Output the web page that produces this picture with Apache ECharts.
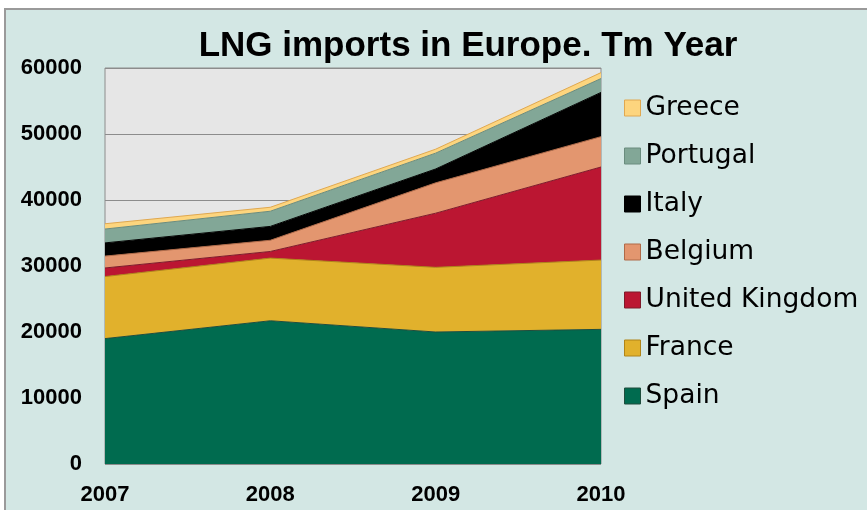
<!DOCTYPE html>
<html>
<head>
<meta charset="utf-8">
<script src="https://cdn.jsdelivr.net/npm/echarts@6/dist/echarts.min.js"></script>
<style>
  html, body { margin: 0; padding: 0; background: #fff; }
  #chart { width: 867px; height: 510px; }
</style>
</head>
<body>
<div id="chart"></div>
<script>
// years on the x axis
var years = ["2007", "2008", "2009", "2010"];
var yTicks = [0, 10000, 20000, 30000, 40000, 50000, 60000];

// LNG imports, Tm per year
var spain = [19000, 21700, 20000, 20400];
var france = [9400, 9500, 9800, 10500];
var unitedKingdom = [1300, 1000, 8200, 14100];
var belgium = [1800, 1700, 4600, 4600];
var italy = [2000, 2100, 2100, 6700];
var portugal = [2100, 2300, 2400, 2100];
var greece = [800, 600, 600, 900];

var countries = [
  { name: "Spain", data: spain, color: "#006b4f", edge: "#1f4d3d" },
  { name: "France", data: france, color: "#e1b12c", edge: "#b08418" },
  { name: "United Kingdom", data: unitedKingdom, color: "#bb1632", edge: "#7e1a2a" },
  { name: "Belgium", data: belgium, color: "#e3966f", edge: "#b06a48" },
  { name: "Italy", data: italy, color: "#000000", edge: "#000000" },
  { name: "Portugal", data: portugal, color: "#82a797", edge: "#6a8c7e" },
  { name: "Greece", data: greece, color: "#fdd57e", edge: "#e0a850" }
];

var chart = echarts.init(document.getElementById("chart"));

var seriesData = countries.map(function (c) {
  return {
    name: c.name,
    type: "line",
    stack: "total",
    data: c.data,
    symbol: "none",
    color: c.color,
    lineStyle: { color: c.edge, width: 1 },
    areaStyle: { color: c.color, opacity: 1 },
    emphasis: { disabled: true }
  };
});

var option = {
  backgroundColor: "#ffffff",
  animation: false,
  graphic: [
    {
      type: "rect",
      z: -10,
      shape: { x: 5, y: 9, width: 880, height: 520 },
      style: { fill: "#d3e7e4", stroke: "#9a9a9a", lineWidth: 2 }
    }
  ],
  title: {
    text: "LNG imports in Europe. Tm Year",
    left: 463,
    textAlign: "center",
    top: 24,
    textStyle: {
      fontFamily: "Liberation Sans",
      fontWeight: "bold",
      fontSize: 35,
      color: "#000"
    }
  },
  legend: {
    orient: "vertical",
    left: 619,
    top: 89,
    itemWidth: 16,
    itemHeight: 16,
    itemGap: 20,
    icon: "rect",
    data: countries.slice().reverse().map(function (c) {
      return { name: c.name, itemStyle: { borderColor: c.edge, borderWidth: 1 } };
    }),
    textStyle: {
      fontFamily: "DejaVu Sans",
      fontSize: 26.5,
      lineHeight: 28,
      color: "#000"
    }
  },
  grid: {
    left: 105,
    top: 68,
    right: 266,
    bottom: 46,
    show: true,
    backgroundColor: "#e6e6e6",
    borderColor: "#8c8c8c",
    borderWidth: 1
  },
  xAxis: {
    type: "category",
    data: years,
    boundaryGap: false,
    axisLine: { show: false },
    axisTick: { show: false },
    axisLabel: {
      margin: 20,
      fontFamily: "Liberation Sans",
      fontWeight: "bold",
      fontSize: 22,
      color: "#000"
    }
  },
  yAxis: {
    type: "value",
    min: yTicks[0],
    max: yTicks[yTicks.length - 1],
    interval: 10000,
    axisLine: { show: false },
    axisTick: { show: false },
    splitLine: { lineStyle: { color: "#8c8c8c", width: 1 } },
    axisLabel: {
      margin: 23,
      formatter: function (v) { return String(v); },
      fontFamily: "Liberation Sans",
      fontWeight: "bold",
      fontSize: 22,
      color: "#000"
    }
  },
  series: seriesData
};

chart.setOption(option);
</script>
</body>
</html>
